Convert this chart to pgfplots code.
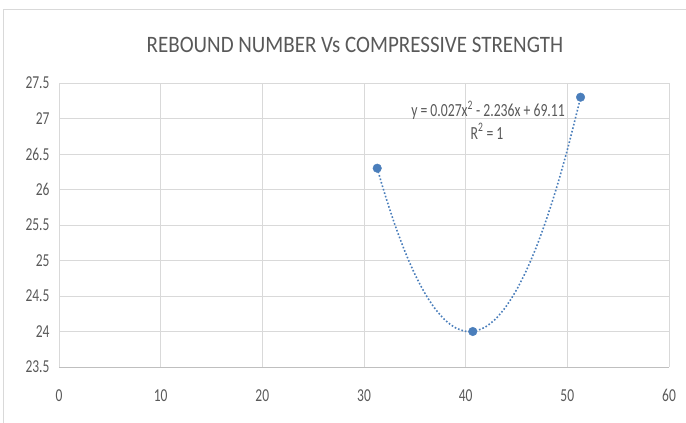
\documentclass[border=0pt]{standalone}
\usepackage{pgfplots}
\pgfplotsset{compat=1.18}
\usepackage{fontspec}
\setmainfont{Carlito}
\definecolor{ptblue}{HTML}{4A7EBB}
\definecolor{txtgray}{HTML}{595959}
\definecolor{gridgray}{HTML}{D9D9D9}
\definecolor{axgray}{HTML}{BFBFBF}
\newcommand\st[1]{\scalebox{1}[1.35]{#1}}
\begin{document}
\begin{tikzpicture}[x=1pt,y=1pt]
\useasboundingbox (0,0) rectangle (686,423);
\draw[gridgray, line width=0.8pt] (3,0) -- (3,414) -- (686,414);
\node[txtgray, font=\fontsize{21}{24}\selectfont] at (355,378) {\scalebox{1}[1.12]{REBOUND NUMBER Vs COMPRESSIVE STRENGTH}};
\begin{axis}[
  at={(59pt,56pt)}, anchor=south west,
  scale only axis, width=610pt, height=284pt,
  xmin=0, xmax=60, ymin=23.5, ymax=27.5,
  xtick={0,10,...,60}, ytick={23.5,24,...,27.5},
  xticklabels={\st{0},\st{10},\st{20},\st{30},\st{40},\st{50},\st{60}},
  yticklabels={\st{23.5},\st{24},\st{24.5},\st{25},\st{25.5},\st{26},\st{26.5},\st{27},\st{27.5}},
  grid=major, major grid style={gridgray, line width=0.8pt},
  axis line style={draw=none},
  tick style={draw=none},
  ticklabel style={txtgray, font=\fontsize{13.5}{15}\selectfont},
  xticklabel style={yshift=-19pt},
  yticklabel style={xshift=-6pt},
  after end axis/.code={\draw[axgray, line width=0.8pt] (rel axis cs:0,0) -- (rel axis cs:1,0);},
  clip=false,
]
\addplot[ptblue, line width=1.6pt, dotted, smooth] coordinates {
(31.3,26.300) (32,25.959) (33,25.520) (34,25.137) (35,24.808) (36,24.536)
(37,24.319) (38,24.158) (39,24.052) (40,24.002) (40.7,24.000) (41,24.007)
(42,24.069) (43,24.185) (44,24.358) (45,24.586) (46,24.869) (47,25.208)
(48,25.603) (49,26.053) (50,26.559) (51,27.121) (51.3,27.300)
};
\addplot[only marks, mark=*, mark size=4.3pt, mark options={fill=ptblue, draw=ptblue}] coordinates {
(31.3,26.3) (40.7,24.0) (51.3,27.3)
};
\node[txtgray, font=\fontsize{13.7}{15}\selectfont, anchor=center] at (axis cs:42.2,27.12) {\st{y = 0.027x\textsuperscript{2} - 2.236x + 69.11}};
\node[txtgray, font=\fontsize{13.7}{15}\selectfont, anchor=center] at (axis cs:42.1,26.82) {\st{R\textsuperscript{2} = 1}};
\end{axis}
\end{tikzpicture}
\end{document}
